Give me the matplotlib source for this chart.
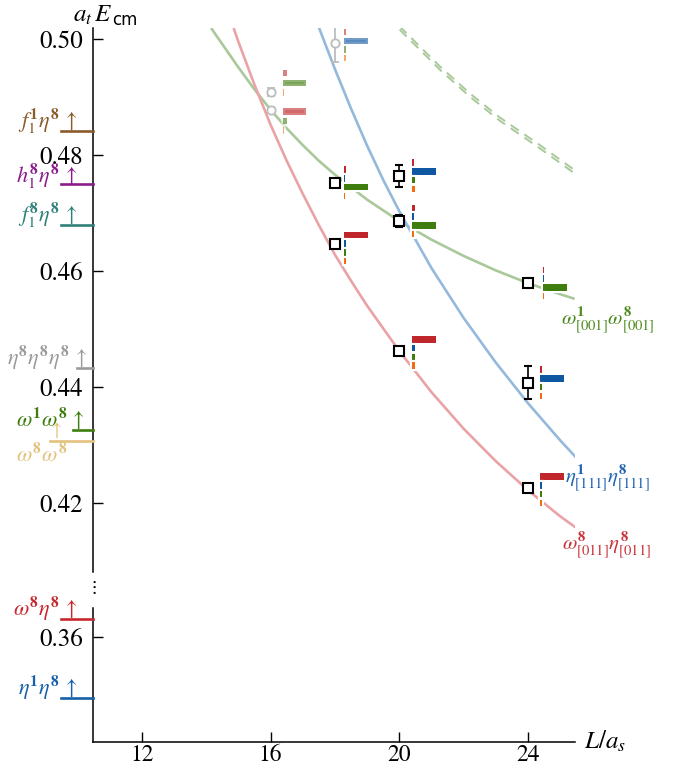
import matplotlib
matplotlib.use("Agg")
import matplotlib.pyplot as plt
import matplotlib.patheffects as pe

plt.rcParams['font.family'] = ['STIXGeneral', 'DejaVu Sans']
plt.rcParams['mathtext.fontset'] = 'stix'

# ---------------- data ----------------
# non-interacting two-meson curves (L/a_s, a_t E_cm)
curve_g_L = [14.15, 15.0, 15.5, 16.0, 16.5, 17.0, 17.5, 18.0, 19.0, 20.0, 21.0, 22.0, 23.0, 24.0, 25.0, 25.45]
curve_g_E = [0.5019, 0.4951, 0.4913, 0.4878, 0.4846, 0.4817, 0.4790, 0.4766, 0.4723, 0.4686, 0.4654,
             0.4626, 0.4601, 0.4579, 0.4560, 0.4552]

curve_r_L = [14.85, 15.0, 15.5, 16.0, 16.5, 17.0, 17.5, 18.0, 18.5, 19.0, 20.0, 21.0, 22.0, 23.0, 24.0, 25.0, 25.5]
curve_r_E = [0.5019, 0.4995, 0.4921, 0.4852, 0.4790, 0.4733, 0.4679, 0.4628, 0.4583, 0.4540, 0.4462,
             0.4391, 0.4328, 0.4272, 0.4222, 0.4177, 0.4157]

curve_b_L = [17.5, 18.0, 18.5, 19.0, 19.5, 20.0, 21.0, 22.0, 23.0, 24.0, 25.0, 25.5]
curve_b_E = [0.5020, 0.4948, 0.4880, 0.4816, 0.4757, 0.4703, 0.4605, 0.4519, 0.4442, 0.4372, 0.4308, 0.4278]

curve_d_L = [20.01, 21.26, 22.2, 23.12, 24.3, 25.45]
curve_d_E = [0.5019, 0.4950, 0.4903, 0.4862, 0.4817, 0.4771]

# thresholds
thr_names = [r'f_1^{\mathbf{1}}\eta^{\mathbf{8}}', r'h_1^{\mathbf{8}}\eta^{\mathbf{8}}',
             r'f_1^{\mathbf{8}}\eta^{\mathbf{8}}', r'\eta^{\mathbf{8}}\eta^{\mathbf{8}}\eta^{\mathbf{8}}',
             r'\omega^{\mathbf{1}}\omega^{\mathbf{8}}', r'\omega^{\mathbf{8}}\omega^{\mathbf{8}}',
             r'\omega^{\mathbf{8}}\eta^{\mathbf{8}}', r'\eta^{\mathbf{1}}\eta^{\mathbf{8}}']
thr_values = [0.4841, 0.4750, 0.4679, 0.4433, 0.4326, 0.4307, 0.3631, 0.3495]

# spectrum levels
lev_L = [16, 16, 18, 18, 18, 20, 20, 20, 24, 24, 24]
lev_E = [0.49091, 0.48776, 0.49936, 0.47522, 0.46466, 0.47643, 0.46862, 0.44626,
         0.45793, 0.44074, 0.42259]
lev_err = [0.0007, 0.0005, 0.0034, 0.0007, 0.0004, 0.0019, 0.0010, 0.0003,
           0.0003, 0.0028, 0.0003]
lev_faded = [True, True, True, False, False, False, False, False, False, False, False]
# operator overlaps: red, blue, green, orange (None = operator not used)
ov_red = [0.20, 1.00, 0.08, 0.10, 1.00, 0.08, 0.10, 1.00, 0.05, 0.08, 1.00]
ov_blue = [None, None, 1.00, 0.06, 0.08, 1.00, 0.08, 0.10, 0.05, 1.00, 0.08]
ov_green = [1.00, 0.20, 0.08, 1.00, 0.10, 0.10, 1.00, 0.10, 1.00, 0.08, 0.08]
ov_orange = [0.05, 0.08, 0.08, 0.06, 0.08, 0.10, 0.08, 0.10, 0.05, 0.08, 0.08]

xticks = [12, 16, 20, 24]
yticks_hi = [0.42, 0.44, 0.46, 0.48, 0.50]
yticks_lo = [0.36]

# ---------------- styles / layout ----------------
c_red, c_blue, c_green, c_orange = '#C0272D', '#0F57A0', '#3E7D0E', '#F26B0F'
op_colors = [c_red, c_blue, c_green, c_orange]
thr_colors = ['#8B5A2B', '#8B1C8B', '#2F8078', '#9A9A9A', '#3E7D0E', '#E3C27D', '#C8282D', '#1560A8']
thr_stub_px = [32, 32, 32, 16, 20, 43, 32, 32]          # stub length left of the axis
thr_text_px = [77, 77, 77, 87, 85, None, 77, 77]         # right edge of label from figure left
thr_lift_px = [3, 1, 3, 3, 3, 0, 3, 3]                   # baseline lift above the stub
bar_dx = [0.37, 0.37, 0.28, 0.28, 0.28, 0.40, 0.40, 0.40, 0.47, 0.36, 0.36]
bar_shift = [0.00155, -0.0019, -0.0004, 0.0, -0.0007, 0.0, 0.0, -0.0003, 0.0, 0.0, -0.0003]
bar_full = 0.745
bar_h = 0.0011
bar_sp = 0.0015

W, H = 678, 768
fig = plt.figure(figsize=(W / 100, H / 100), dpi=100)
ax_hi = fig.add_axes([93 / W, 1 - 572 / H, 482 / W, 544 / H])
ax_lo = fig.add_axes([93 / W, 1 - 742 / H, 482 / W, 134 / H], sharex=ax_hi)

ax_hi.set_xlim(10.48, 25.46)
ax_hi.set_ylim(0.4081, 0.5019)
ax_lo.set_ylim(0.3419, 0.3650)

for ax in (ax_hi, ax_lo):
    ax.spines['top'].set_visible(False)
    ax.spines['right'].set_visible(False)
    ax.spines['left'].set_linewidth(1.1)
    ax.spines['bottom'].set_linewidth(1.1)
    ax.patch.set_alpha(0)
    ax.tick_params(direction='in', length=7, width=1.0, labelsize=18, pad=7)
ax_hi.spines['bottom'].set_visible(False)
ax_hi.tick_params(axis='x', bottom=False, labelbottom=False)
ax_hi.set_yticks(yticks_hi)
ax_hi.set_yticklabels([f'{v:.2f}' for v in yticks_hi])
ax_lo.set_yticks(yticks_lo)
ax_lo.set_yticklabels([f'{v:.2f}' for v in yticks_lo])
ax_lo.set_xticks(xticks)
ax_lo.set_xticklabels([str(v) for v in xticks])
ax_lo.tick_params(axis='x', pad=2, labelsize=17)

# axis break marker
fig.text(93 / W, 1 - 587 / H, r'$\vdots$', ha='center', va='center', fontsize=13)

# axis labels
fig.text(112 / W, 1 - 22 / H, r'$a_t\,E$', ha='right', va='baseline', fontsize=18)
fig.text(112 / W, 1 - 25 / H, 'cm', ha='left', va='baseline', fontsize=12,
         family='DejaVu Sans')
fig.text(584 / W, 1 - 742 / H, r'$L/a_s$', ha='left', va='center', fontsize=18)

# non-interacting curves
lw_c = 1.9
ax_hi.plot(curve_g_L, curve_g_E, color='#A9C99A', lw=lw_c, zorder=1, solid_capstyle='butt')
ax_hi.plot(curve_r_L, curve_r_E, color='#E9A3A6', lw=lw_c, zorder=1, solid_capstyle='butt')
ax_hi.plot(curve_b_L, curve_b_E, color='#95B9DC', lw=lw_c, zorder=1, solid_capstyle='butt')
for off in (0.00028, -0.00028):
    ax_hi.plot(curve_d_L, [e + off for e in curve_d_E], color='#A9C99A', lw=1.4,
               ls=(0, (5, 3.5)), zorder=1)

# curve labels
ax_hi.text(25.04, 0.4516, r'$\omega^{\mathbf{1}}_{[001]}\omega^{\mathbf{8}}_{[001]}$',
           color='#4E8A1E', fontsize=15, ha='left', va='center')
ax_hi.text(25.14, 0.4243, r'$\eta^{\mathbf{1}}_{[111]}\eta^{\mathbf{8}}_{[111]}$',
           color='#1F63AE', fontsize=15, ha='left', va='center')
ax_hi.text(25.07, 0.4128, r'$\omega^{\mathbf{8}}_{[011]}\eta^{\mathbf{8}}_{[011]}$',
           color='#C8323A', fontsize=15, ha='left', va='center')

# thresholds on the left of the energy axis
def to_fig_y(ax, val):
    return fig.transFigure.inverted().transform(ax.transData.transform((0, val)))[1]

for name, val, col, stub, tx, lift in zip(thr_names, thr_values, thr_colors, thr_stub_px,
                                          thr_text_px, thr_lift_px):
    ax = ax_hi if val > 0.4 else ax_lo
    yf = to_fig_y(ax, val)
    fig.lines.append(plt.Line2D([(93 - stub) / W, 93 / W], [yf, yf], color=col, lw=1.9,
                                transform=fig.transFigure))
    if tx is not None:
        fig.text(tx / W, yf + lift / H, r'$' + name + r'\,\uparrow$', color=col, fontsize=16,
                 ha='right', va='baseline')
    else:
        fig.text(56 / W, yf + 1.0 / H, r'$\uparrow$', color=col, fontsize=14,
                 ha='center', va='bottom')
        fig.text(42 / W, yf - 3 / H, r'$' + name + r'$', color=col, fontsize=16,
                 ha='center', va='top')

# spectrum points with operator-overlap bars
stroke = [pe.withStroke(linewidth=3, foreground='white')]
for i in range(len(lev_L)):
    L, E, err, faded = lev_L[i], lev_E[i], lev_err[i], lev_faded[i]
    if faded:
        ax_hi.errorbar(L, E, yerr=err, fmt='o', ms=6, mfc='white', mec='#BDBDBD', mew=1.3,
                       ecolor='#BDBDBD', elinewidth=1.3, capsize=3.2, capthick=1.3, zorder=5)
    else:
        ax_hi.errorbar(L, E, yerr=err, fmt='s', ms=6.5, mfc='white', mec='black', mew=1.5,
                       ecolor='black', elinewidth=1.2, capsize=3.2, capthick=1.2, zorder=5)
    ovs = [ov_red[i], ov_blue[i], ov_green[i], ov_orange[i]]
    slots = [(v, c) for v, c in zip(ovs, op_colors) if v is not None]
    n = len(slots)
    sp = bar_sp if n == 4 else 0.00165
    centre = E + bar_shift[i]
    for k, (v, c) in enumerate(slots):
        y = centre + (n - 1) / 2 * sp - k * sp
        ax_hi.barh(y, v * bar_full, height=bar_h, left=L + bar_dx[i], color=c,
                   alpha=0.45 if faded else 1.0, zorder=4, path_effects=stroke)

fig.savefig('out.png', dpi=100)
